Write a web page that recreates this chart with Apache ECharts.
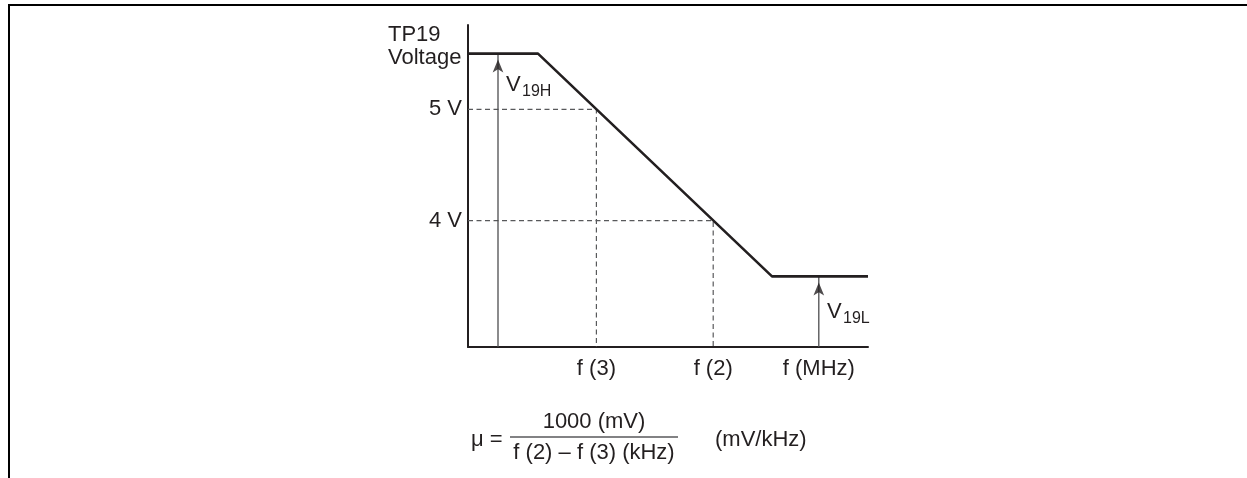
<!DOCTYPE html>
<html>
<head>
<meta charset="utf-8">
<script src="https://cdn.jsdelivr.net/npm/echarts@6/dist/echarts.min.js"></script>
<style>
html,body{margin:0;padding:0;background:#fff;}
#c{width:1247px;height:478px;}
</style>
</head>
<body>
<div id="c"></div>
<script>
// ---- data ----
var curveX = [0, 17.5, 76, 100];
var curveV = [5.5, 5.5, 3.5, 3.5];
var xTickValues = [32.1, 61.3, 87.7];
var xTickLabels = ['f (3)', 'f (2)', 'f (MHz)'];
var yTickValues = [4, 5];
var yTickLabels = ['4 V', '5 V'];
var guideF = [32.1, 61.3];      // f(3), f(2)
var guideV = [5, 4];            // voltages at f(3), f(2)
var arrowX = [7.5, 87.7];       // V19H, V19L arrow positions
var arrowV = [5.5, 3.5];        // arrow tips
var xMin = 0, xMax = 100, yMin = 2.866, yMax = 5.757;

var INK = '#231f20';
var FONT = 'Liberation Sans, Arial, Helvetica, sans-serif';

function zip(a, b) { return a.map(function (v, i) { return [v, b[i]]; }); }

var series = [];
// dashed guides
guideF.forEach(function (f, i) {
  series.push({
    type: 'line', silent: true, symbol: 'none', z: 2,
    data: [[xMin, guideV[i]], [f, guideV[i]], [f, yMin]],
    lineStyle: { color: '#58595b', width: 1.2, type: [5, 3.5] }
  });
});
// arrows shafts
arrowX.forEach(function (x, i) {
  series.push({
    type: 'line', silent: true, symbol: 'none', z: 3,
    data: [[x, yMin], [x, arrowV[i]]],
    lineStyle: { color: '#4d4d4f', width: 1.3 }
  });
});
// arrow heads
series.push({
  type: 'scatter', silent: true, z: 4,
  symbol: 'arrow', symbolSize: [8, 13], symbolOffset: [0, 6],
  itemStyle: { color: INK },
  data: zip(arrowX, arrowV)
});
// main curve
series.push({
  type: 'line', silent: true, symbol: 'none', z: 5,
  data: zip(curveX, curveV),
  lineStyle: { color: INK, width: 2.6 }
});

var chart = echarts.init(document.getElementById('c'), null, { renderer: 'canvas' });
chart.setOption({
  animation: false,
  backgroundColor: '#fff',
  grid: { left: 468, top: 25, right: 379, bottom: 131, containLabel: false },
  xAxis: {
    type: 'value', min: xMin, max: xMax,
    axisLine: { show: true, onZero: false, lineStyle: { color: INK, width: 2 } },
    axisTick: { show: false },
    splitLine: { show: false },
    axisLabel: {
      customValues: xTickValues,
      formatter: function (v) { var i = xTickValues.indexOf(v); return i >= 0 ? xTickLabels[i] : ''; },
      fontSize: 22, fontFamily: FONT, color: INK, margin: 11
    }
  },
  yAxis: {
    type: 'value', min: yMin, max: yMax,
    axisLine: { show: true, onZero: false, lineStyle: { color: INK, width: 2 } },
    axisTick: { show: false },
    splitLine: { show: false },
    axisLabel: {
      customValues: yTickValues,
      formatter: function (v) { var i = yTickValues.indexOf(v); return i >= 0 ? yTickLabels[i] : ''; },
      fontSize: 22, fontFamily: FONT, color: INK, margin: 6
    }
  },
  series: series,
  graphic: [
    // frame
    { type: 'line', shape: { x1: 8, y1: 5, x2: 1247, y2: 5 }, style: { stroke: '#000', lineWidth: 2 } },
    { type: 'line', shape: { x1: 9, y1: 4, x2: 9, y2: 478 }, style: { stroke: '#000', lineWidth: 2 } },
    // axis title
    { type: 'text', left: 388, top: 23, style: { text: 'TP19\nVoltage', font: '22px ' + FONT, fill: INK, lineHeight: 23 } },
    // V19H
    { type: 'text', x: 506, y: 85, style: { text: 'V', font: '22px ' + FONT, fill: INK, verticalAlign: 'middle' } },
    { type: 'text', x: 522, y: 92, style: { text: '19H', font: '16px ' + FONT, fill: INK, verticalAlign: 'middle' } },
    // V19L
    { type: 'text', x: 827, y: 312, style: { text: 'V', font: '22px ' + FONT, fill: INK, verticalAlign: 'middle' } },
    { type: 'text', x: 843, y: 319, style: { text: '19L', font: '16px ' + FONT, fill: INK, verticalAlign: 'middle' } },
    // formula
    { type: 'text', x: 471, y: 440, style: { text: 'μ =', font: '22px ' + FONT, fill: INK, verticalAlign: 'middle' } },
    { type: 'text', x: 594, y: 422, style: { text: '1000 (mV)', font: '22px ' + FONT, fill: INK, align: 'center', verticalAlign: 'middle' } },
    { type: 'line', shape: { x1: 510, y1: 437, x2: 678, y2: 437 }, style: { stroke: '#58595b', lineWidth: 1.5 } },
    { type: 'text', x: 594, y: 453, style: { text: 'f (2) – f (3) (kHz)', font: '22px ' + FONT, fill: INK, align: 'center', verticalAlign: 'middle' } },
    { type: 'text', x: 715, y: 440, style: { text: '(mV/kHz)', font: '22px ' + FONT, fill: INK, verticalAlign: 'middle' } }
  ]
});
</script>
</body>
</html>
